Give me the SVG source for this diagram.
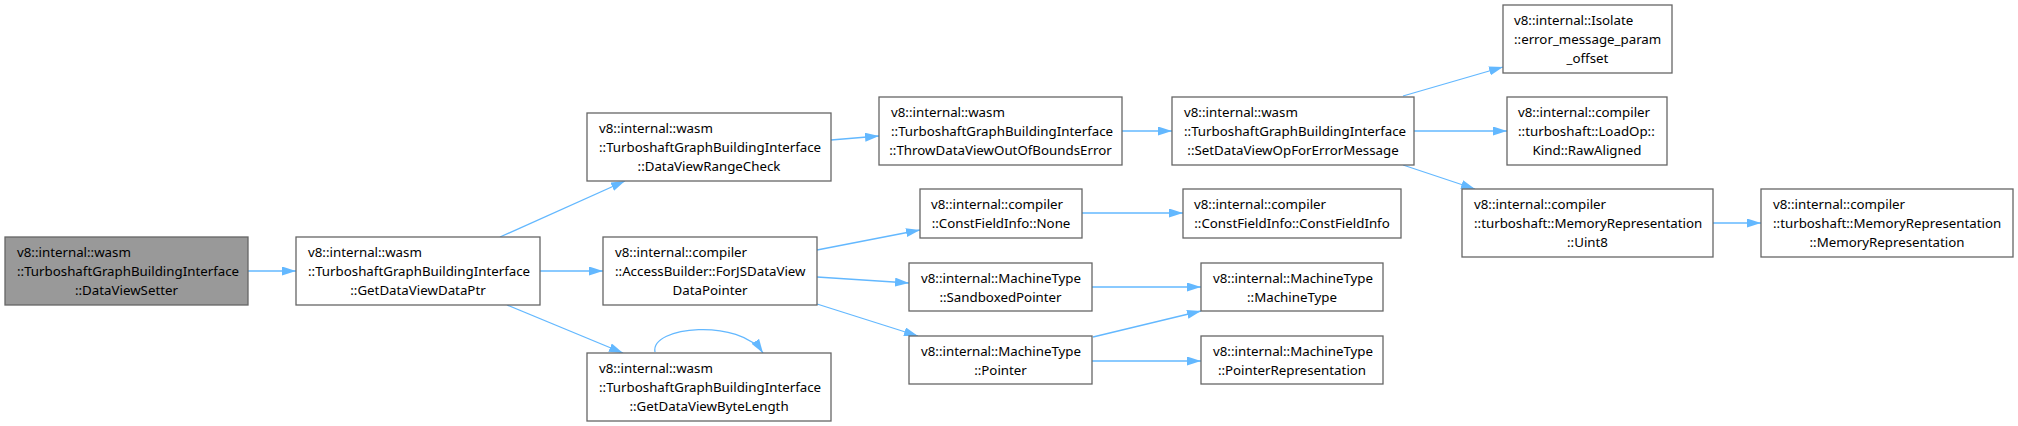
<svg xmlns="http://www.w3.org/2000/svg" width="2018" height="426" viewBox="0 0 2018 426">
<style>
.n rect{fill:#fff;stroke:#666;stroke-width:1.3}
.n.g rect{fill:#999}
.n text{font-family:"Noto Sans","DejaVu Sans",sans-serif;font-size:13.3px;fill:#000}
.n .c{text-anchor:middle}
.e path{fill:none;stroke:#63b8ff;stroke-width:1.3;marker-end:url(#a)}
</style>
<defs>
<marker id="a" markerUnits="userSpaceOnUse" markerWidth="15" markerHeight="10" refX="14" refY="4.5" orient="auto"><path d="M0,0L14,4.5L0,9z" fill="#63b8ff" stroke="none"/></marker>
</defs>
<g id="edges" class="e">
<path d="M248,271L296,271"/>
<path d="M500,237L625,181"/>
<path d="M540,271L603,271"/>
<path d="M507,305L623,353"/>
<path d="M655,352C650,326 740,318 763,353"/>
<path d="M831,140L879,136"/>
<path d="M1122,131L1172,131"/>
<path d="M1403,96L1503,67"/>
<path d="M1414,131L1507,131"/>
<path d="M1403,165L1475,189"/>
<path d="M1713,223L1761,223"/>
<path d="M817,250L920,230"/>
<path d="M817,277L909,283"/>
<path d="M817,304L918,336"/>
<path d="M1082,213L1183,213"/>
<path d="M1092,287L1201,287"/>
<path d="M1092,361L1201,361"/>
<path d="M1093,337L1201,311"/>
</g>
<g id="n1" class="n g"><rect x="5" y="237" width="243" height="68"/><text x="17" y="256.5">v8::internal::wasm</text><text x="17" y="275.5">::TurboshaftGraphBuildingInterface</text><text class="c" x="126.5" y="294.5">::DataViewSetter</text></g>
<g id="n2" class="n"><rect x="296" y="237" width="244" height="68"/><text x="308" y="256.5">v8::internal::wasm</text><text x="308" y="275.5">::TurboshaftGraphBuildingInterface</text><text class="c" x="418" y="294.5">::GetDataViewDataPtr</text></g>
<g id="n3" class="n"><rect x="587" y="113" width="244" height="68"/><text x="599" y="132.5">v8::internal::wasm</text><text x="599" y="151.5">::TurboshaftGraphBuildingInterface</text><text class="c" x="709" y="170.5">::DataViewRangeCheck</text></g>
<g id="n4" class="n"><rect x="603" y="237" width="214" height="68"/><text x="615" y="256.5">v8::internal::compiler</text><text x="615" y="275.5">::AccessBuilder::ForJSDataView</text><text class="c" x="710" y="294.5">DataPointer</text></g>
<g id="n5" class="n"><rect x="587" y="353" width="244" height="68"/><text x="599" y="372.5">v8::internal::wasm</text><text x="599" y="391.5">::TurboshaftGraphBuildingInterface</text><text class="c" x="709" y="410.5">::GetDataViewByteLength</text></g>
<g id="n6" class="n"><rect x="879" y="97" width="243" height="68"/><text x="891" y="116.5">v8::internal::wasm</text><text x="891" y="135.5">::TurboshaftGraphBuildingInterface</text><text class="c" x="1000.5" y="154.5">::ThrowDataViewOutOfBoundsError</text></g>
<g id="n7" class="n"><rect x="1172" y="97" width="242" height="68"/><text x="1184" y="116.5">v8::internal::wasm</text><text x="1184" y="135.5">::TurboshaftGraphBuildingInterface</text><text class="c" x="1293" y="154.5">::SetDataViewOpForErrorMessage</text></g>
<g id="n8" class="n"><rect x="1503" y="5" width="169" height="68"/><text x="1514" y="24.5">v8::internal::Isolate</text><text x="1514" y="43.5">::error_message_param</text><text class="c" x="1587.5" y="62.5">_offset</text></g>
<g id="n9" class="n"><rect x="1507" y="97" width="160" height="68"/><text x="1518" y="116.5">v8::internal::compiler</text><text x="1518" y="135.5">::turboshaft::LoadOp::</text><text class="c" x="1587" y="154.5">Kind::RawAligned</text></g>
<g id="n10" class="n"><rect x="1462" y="189" width="251" height="68"/><text x="1474" y="208.5">v8::internal::compiler</text><text x="1474" y="227.5">::turboshaft::MemoryRepresentation</text><text class="c" x="1587.5" y="246.5">::Uint8</text></g>
<g id="n11" class="n"><rect x="1761" y="189" width="252" height="68"/><text x="1773" y="208.5">v8::internal::compiler</text><text x="1773" y="227.5">::turboshaft::MemoryRepresentation</text><text class="c" x="1887" y="246.5">::MemoryRepresentation</text></g>
<g id="n12" class="n"><rect x="920" y="189" width="162" height="49"/><text x="931" y="208.5">v8::internal::compiler</text><text class="c" x="1001" y="227.5">::ConstFieldInfo::None</text></g>
<g id="n13" class="n"><rect x="1183" y="189" width="218" height="49"/><text x="1194" y="208.5">v8::internal::compiler</text><text class="c" x="1292" y="227.5">::ConstFieldInfo::ConstFieldInfo</text></g>
<g id="n14" class="n"><rect x="909" y="263" width="183" height="48"/><text x="921" y="282.5">v8::internal::MachineType</text><text class="c" x="1000.5" y="301.5">::SandboxedPointer</text></g>
<g id="n15" class="n"><rect x="1201" y="263" width="182" height="48"/><text x="1213" y="282.5">v8::internal::MachineType</text><text class="c" x="1292" y="301.5">::MachineType</text></g>
<g id="n16" class="n"><rect x="909" y="336" width="183" height="48"/><text x="921" y="355.5">v8::internal::MachineType</text><text class="c" x="1000.5" y="374.5">::Pointer</text></g>
<g id="n17" class="n"><rect x="1201" y="336" width="182" height="48"/><text x="1213" y="355.5">v8::internal::MachineType</text><text class="c" x="1292" y="374.5">::PointerRepresentation</text></g>
</svg>
